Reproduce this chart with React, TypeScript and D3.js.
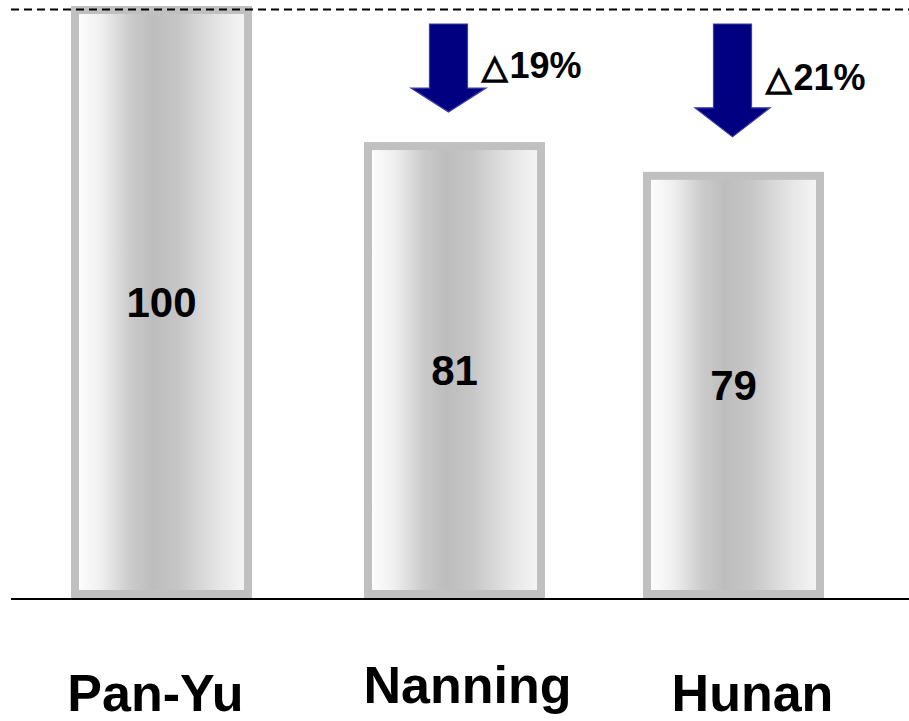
import * as d3 from "d3";

// categories and values shown in the picture
const categories = ["Pan-Yu", "Nanning", "Hunan"];
const values = [100, 81, 79];
// bar heights as they are drawn in the picture (index, Pan-Yu = 100)
const barLevels = [100, 76.7, 71.6];
// change vs Pan-Yu, shown with the arrows
const deltas = [null, "19%", "21%"];

const W = 909;
const H = 721;
const FONT = "'Liberation Sans', Arial, Helvetica, 'DejaVu Sans', sans-serif";

export default function App() {
  const barX = [75, 368, 647];
  const barW = 173;
  const y = d3.scaleLinear().domain([0, 100]).range([594, 10]);
  const axisY = 599;

  // category label nudges, as laid out in the picture
  const labelDx = [-6, 13, 19];
  const labelY = [711, 703, 711];

  return (
    <svg
      width={W}
      height={H}
      style={{ position: "absolute", left: 0, top: 0, background: "#fff" }}
      fontFamily={FONT}
    >
      <defs>
        <linearGradient id="barFill" x1="0" y1="0" x2="1" y2="0">
          <stop offset="0%" stopColor="#ffffff" />
          <stop offset="15%" stopColor="#f0f0f0" />
          <stop offset="32%" stopColor="#cbcbcb" />
          <stop offset="45%" stopColor="#bdbdbd" />
          <stop offset="60%" stopColor="#c6c6c6" />
          <stop offset="85%" stopColor="#e8e8e8" />
          <stop offset="100%" stopColor="#f6f6f6" />
        </linearGradient>
      </defs>

      {categories.map((c, i) => {
        const bx = barX[i];
        const top = y(barLevels[i]);
        const bottom = y(0);
        const cx = bx + barW / 2;
        return (
          <g key={c}>
            <rect
              x={bx}
              y={top}
              width={barW}
              height={bottom - top}
              fill="url(#barFill)"
              stroke="#c0c0c0"
              strokeWidth={8}
            />
            <text
              x={cx}
              y={(top + bottom) / 2 + 15}
              textAnchor="middle"
              fontSize={42}
              fontWeight="bold"
              fill="#000"
            >
              {values[i]}
            </text>
            <text
              x={cx + labelDx[i]}
              y={labelY[i]}
              textAnchor="middle"
              fontSize={52}
              fontWeight="bold"
              fill="#000"
            >
              {c}
            </text>
          </g>
        );
      })}

      {/* arrows and change labels */}
      {categories.map((c, i) => {
        const d = deltas[i];
        if (!d) return null;
        const top = y(barLevels[i]) - 4;
        const cx = barX[i] + barW / 2 - (i === 1 ? 6 : 1);
        const aTop = 24;
        const tip = top - 30 - (i === 2 ? 5 : 0);
        const headTop = tip - 24 - (i === 2 ? 5 : 0);
        const sw = 19;
        const hw = 37.5;
        const p = d3.path();
        p.moveTo(cx - sw, aTop);
        p.lineTo(cx + sw, aTop);
        p.lineTo(cx + sw, headTop);
        p.lineTo(cx + hw, headTop);
        p.lineTo(cx, tip);
        p.lineTo(cx - hw, headTop);
        p.lineTo(cx - sw, headTop);
        p.closePath();
        return (
          <g key={c + "-delta"}>
            <path d={p.toString()} fill="#000080" stroke="#3c3ca8" strokeWidth={1.2} />
            <text
              x={cx + hw - 4}
              y={(aTop + tip) / 2 + 10}
              fontSize={36}
              fontWeight="bold"
              fill="#000"
            >
              <tspan fontFamily="'DejaVu Sans', sans-serif" fontSize={33} stroke="#000" strokeWidth={1.6}>
                △
              </tspan>
              <tspan dx={2}>{d}</tspan>
            </text>
          </g>
        );
      })}

      {/* reference level line */}
      <line
        x1={11}
        x2={W}
        y1={y(100) - 0.5}
        y2={y(100) - 0.5}
        stroke="#000"
        strokeWidth={2}
        strokeDasharray="8 5"
      />
      {/* base line */}
      <line x1={11} x2={W} y1={axisY} y2={axisY} stroke="#000" strokeWidth={2} />
    </svg>
  );
}
